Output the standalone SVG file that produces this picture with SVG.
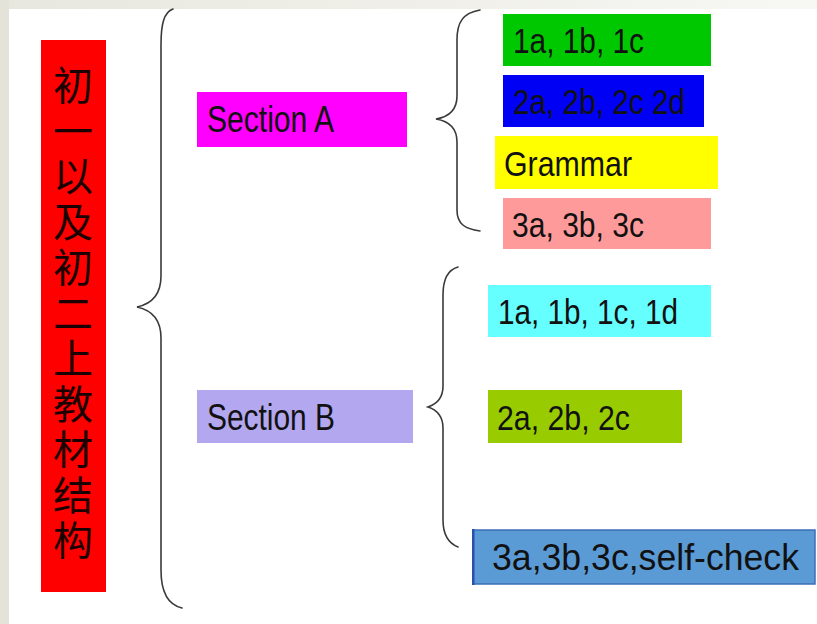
<svg xmlns="http://www.w3.org/2000/svg" width="817" height="624" viewBox="0 0 817 624">
<defs>
<linearGradient id="topband" x1="0" y1="0" x2="1" y2="0">
<stop offset="0" stop-color="#e8e7de"/>
<stop offset="1" stop-color="#f7f7f4"/>
</linearGradient>
<style>
.lbl{font-family:"Liberation Sans",Arial,sans-serif;font-size:35px;fill:#111}
.cjk{font-family:"Noto Sans CJK SC","Noto Sans CJK JP",sans-serif;font-size:40px;fill:#1a0000;writing-mode:vertical-rl;letter-spacing:5.5px}
.brace{fill:none;stroke:#3a3a3a;stroke-width:1.6;stroke-linecap:round}
</style>
</defs>
<rect x="0" y="0" width="817" height="624" fill="#ffffff"/>
<rect x="0" y="0" width="817" height="9" fill="url(#topband)"/>
<rect x="0" y="0" width="9" height="624" fill="#e4e3d9"/>

<g id="connectors">
<path class="brace" d="M173,9 C164,12 161,24 161,45 L161,276 C161,296 151,304 137,307 C151,310 161,318 161,338 L161,570 C161,594 169,605 182,608"/>
<path class="brace" d="M480,10 C463,13 457,22 457,40 L457,96 C457,110 448,117 436,119 C448,121 457,128 457,142 L457,210 C457,224 465,229 480,231"/>
<path class="brace" d="M458,267 C447,270 443,280 443,295 L443,386 C443,398 437,404 428,407 C437,410 443,416 443,428 L443,520 C443,535 448,543 458,547"/>
</g>

<g id="root">
<rect x="41" y="40" width="65" height="552" fill="#ff0000"/>
<text class="cjk" x="73" y="65">初一以及初二上教材结构</text>
</g>

<g id="sectionA">
<rect x="197" y="92" width="210" height="55" fill="#ff00ff"/>
<text class="lbl" x="207" y="132" textLength="127" lengthAdjust="spacingAndGlyphs" style="font-size:36px">Section A</text>
</g>

<g id="sectionB">
<rect x="197" y="390" width="216" height="53" fill="#b3a7ef"/>
<text class="lbl" x="207" y="430" textLength="128" lengthAdjust="spacingAndGlyphs" style="font-size:36px">Section B</text>
</g>

<g id="a1">
<rect x="503" y="14" width="208" height="52" fill="#00c800"/>
<text class="lbl" x="513" y="53" textLength="131" lengthAdjust="spacingAndGlyphs">1a, 1b, 1c</text>
</g>

<g id="a2">
<rect x="503" y="75" width="201" height="52" fill="#0000f5"/>
<text class="lbl" x="513" y="114" textLength="172" lengthAdjust="spacingAndGlyphs">2a, 2b, 2c 2d</text>
</g>

<g id="grammar">
<rect x="495" y="136" width="223" height="53" fill="#ffff00"/>
<text class="lbl" x="504" y="176" textLength="128" lengthAdjust="spacingAndGlyphs">Grammar</text>
</g>

<g id="a3">
<rect x="503" y="198" width="208" height="51" fill="#ff9a9a"/>
<text class="lbl" x="512" y="237" textLength="132" lengthAdjust="spacingAndGlyphs">3a, 3b, 3c</text>
</g>

<g id="b1">
<rect x="488" y="285" width="223" height="52" fill="#66ffff"/>
<text class="lbl" x="498" y="324" textLength="180" lengthAdjust="spacingAndGlyphs">1a, 1b, 1c, 1d</text>
</g>

<g id="b2">
<rect x="488" y="390" width="194" height="53" fill="#99cc00"/>
<text class="lbl" x="497" y="430" textLength="133" lengthAdjust="spacingAndGlyphs">2a, 2b, 2c</text>
</g>

<g id="b3">
<rect x="473" y="530" width="342" height="54" fill="#5b9bd5" stroke="#3b6fb6" stroke-width="1.5"/>
<rect x="472" y="529" width="2.5" height="56" fill="#2a4fb0"/>
<text class="lbl" x="492" y="570" textLength="307" lengthAdjust="spacingAndGlyphs" style="font-size:37px">3a,3b,3c,self-check</text>
</g>
</svg>
